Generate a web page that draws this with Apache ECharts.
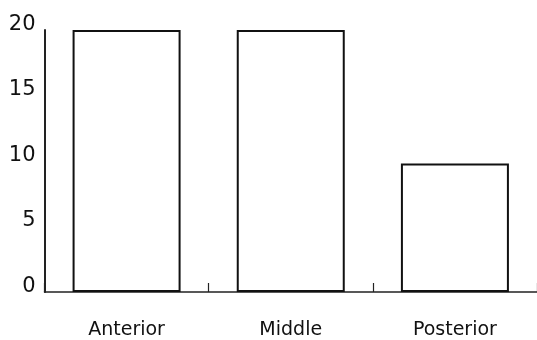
<!DOCTYPE html>
<html>
<head>
<meta charset="utf-8">
<script src="https://cdn.jsdelivr.net/npm/echarts@6/dist/echarts.min.js"></script>
<style>html,body{margin:0;padding:0;background:#fff}#c{width:537px;height:340px}</style>
</head>
<body>
<div id="c"></div>
<script>
const categories = ['Anterior', 'Middle', 'Posterior'];
const values = [20, 20, 9.8];
const yTicks = [0, 5, 10, 15, 20];

const chart = echarts.init(document.getElementById('c'), null, {renderer: 'canvas'});
chart.setOption({
  animation: false,
  backgroundColor: '#ffffff',
  grid: {left: 44.5, right: -2, top: 30, bottom: 48, containLabel: false},
  xAxis: {
    type: 'category',
    data: categories,
    axisLine: {show: true, lineStyle: {color: '#222', width: 1.5}},
    axisTick: {show: true, inside: true, length: 9, lineStyle: {color: '#222', width: 1.2}},
    axisLabel: {color: '#111', fontFamily: 'DejaVu Sans', fontSize: 19, margin: 29}
  },
  yAxis: {
    type: 'value',
    min: yTicks[0], max: yTicks[yTicks.length - 1], interval: 5,
    offset: 0,
    splitLine: {show: false},
    axisLine: {show: true, lineStyle: {color: '#222', width: 2}},
    axisTick: {show: false},
    axisLabel: {color: '#111', fontFamily: 'DejaVu Sans', fontSize: 21, margin: 9, verticalAlign: 'bottom', lineHeight: 11}
  },
  series: [{
    type: 'bar',
    data: values,
    barWidth: 108,
    itemStyle: {color: '#ffffff', borderColor: '#111', borderWidth: 2}
  }]
});
</script>
</body>
</html>
